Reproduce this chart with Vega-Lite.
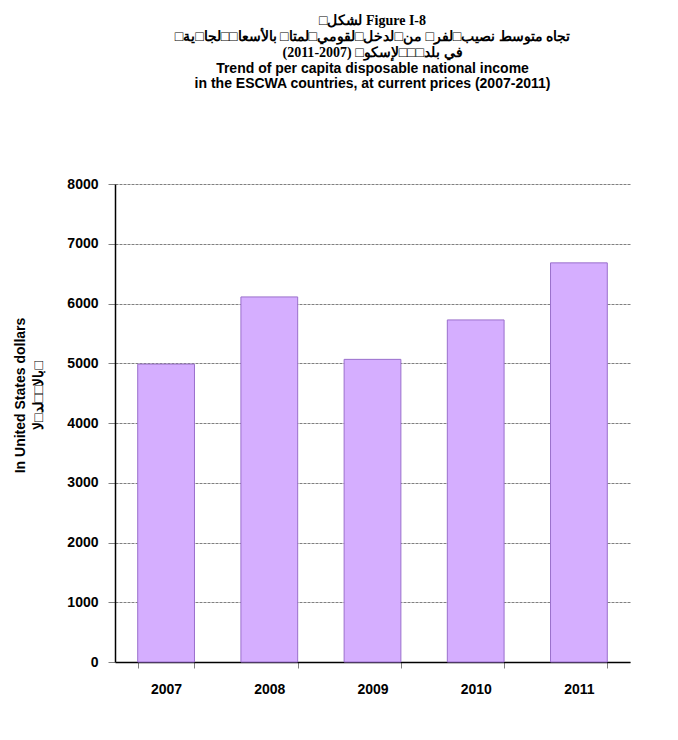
{
  "$schema": "https://vega.github.io/schema/vega-lite/v6.json",
  "width": 515,
  "height": 478,
  "autosize": {"type": "none"},
  "padding": {"left": 115, "top": 184, "right": 48, "bottom": 78},
  "background": "white",
  "title": {
    "text": ["□لشكل Figure I-8", "□تجاه متوسط نصيب□لفر□ من□لدخل□لقومي□لمتا□ بالأسعا□□لجا□ية", "في بلد□□□لإسكو□ (2007-2011)"],
    "subtitle": ["Trend of per capita disposable national  income", "in the ESCWA countries, at current prices (2007-2011)"],
    "font": "Liberation Serif",
    "fontSize": 14,
    "fontWeight": "bold",
    "lineHeight": 16,
    "subtitleFont": "Liberation Sans",
    "subtitleFontSize": 14,
    "subtitleFontWeight": "bold",
    "subtitleLineHeight": 15,
    "subtitlePadding": 2,
    "subtitleColor": "black",
    "color": "black",
    "offset": 86,
    "anchor": "middle"
  },
  "data": {
    "values": [
      {"year": "2007", "income": 4985},
      {"year": "2008", "income": 6110},
      {"year": "2009", "income": 5065},
      {"year": "2010", "income": 5725},
      {"year": "2011", "income": 6680}
    ]
  },
  "mark": {"type": "bar", "fill": "#D5AEFF", "stroke": "#9A70CC", "strokeWidth": 1},
  "encoding": {
    "x": {
      "field": "year",
      "type": "ordinal",
      "scale": {"paddingInner": 0.45, "paddingOuter": 0.22},
      "axis": {
        "title": null,
        "labelAngle": 0,
        "labelFont": "Liberation Sans",
        "labelFontSize": 14,
        "labelFontWeight": "bold",
        "labelColor": "black",
        "labelPadding": 14,
        "tickBand": "extent",
        "tickSize": 6,
        "tickColor": "#808080",
        "domainColor": "black",
        "domainWidth": 1.5
      }
    },
    "y": {
      "field": "income",
      "type": "quantitative",
      "scale": {"domain": [0, 8000], "nice": false},
      "axis": {
        "title": ["In United States dollars", "بالا□□لد□لا□"],
        "titleFont": "Liberation Sans",
        "titleFontSize": 14,
        "titleFontWeight": "bold",
        "titleColor": "black",
        "titleLineHeight": 18,
        "titleAngle": -90,
        "titleX": -102,
        "titleY": 211,
        "titleAlign": "center",
        "titleBaseline": "top",
        "values": [0, 1000, 2000, 3000, 4000, 5000, 6000, 7000, 8000],
        "format": "d",
        "labelFont": "Liberation Sans",
        "labelFontSize": 14,
        "labelFontWeight": "bold",
        "labelColor": "black",
        "labelPadding": 10,
        "tickSize": 7,
        "tickColor": "#808080",
        "domainColor": "black",
        "domainWidth": 1.5,
        "grid": true,
        "gridColor": "#808080",
        "gridDash": [3, 1],
        "gridWidth": 1
      }
    }
  },
  "config": {"view": {"stroke": null}}
}
